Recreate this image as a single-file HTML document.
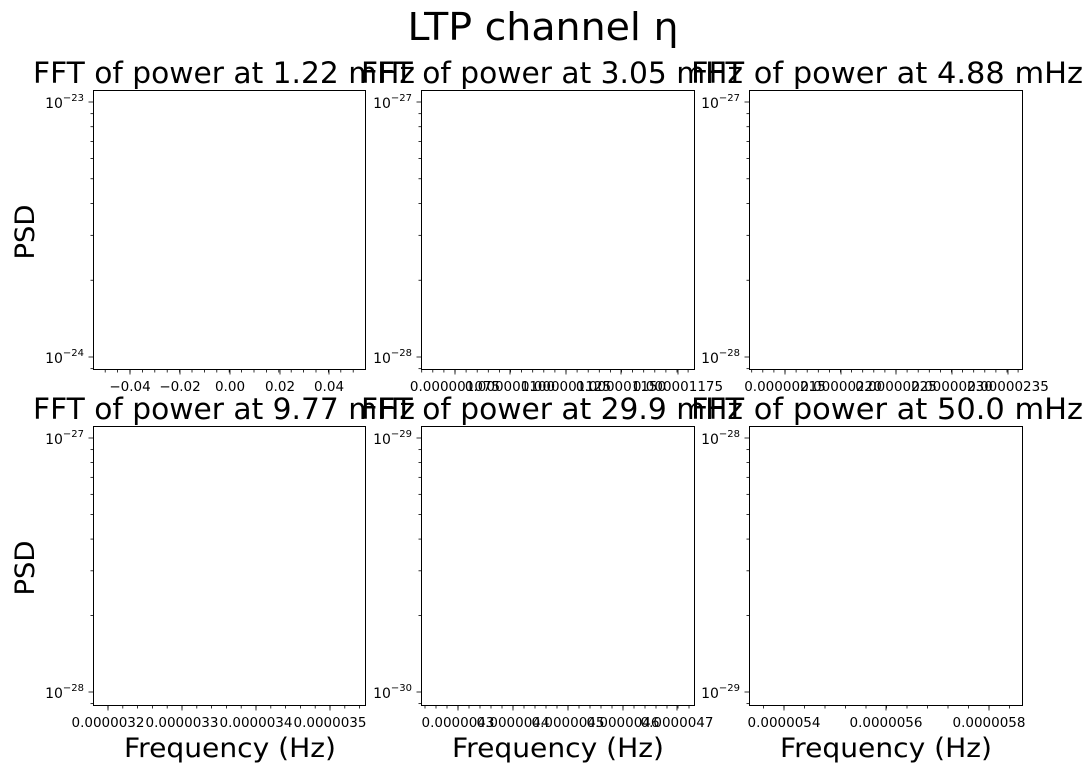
<!DOCTYPE html>
<html><head><meta charset="utf-8"><style>
html,body{margin:0;padding:0;background:#fff;}
svg{display:block;font-family:"DejaVu Sans","Liberation Sans",sans-serif;}
</style></head><body>
<svg id="s" width="1092" height="773" viewBox="0 0 1092 773" xmlns="http://www.w3.org/2000/svg">
<rect width="1092" height="773" fill="#fff"/>
<text x="543" y="40" font-size="38" text-anchor="middle" textLength="271" lengthAdjust="spacingAndGlyphs">LTP channel η</text>

<g font-size="29" text-anchor="middle">
<text x="224" y="83" textLength="382" lengthAdjust="spacingAndGlyphs">FFT of power at 1.22 mHz</text>
<text x="552" y="83" textLength="382" lengthAdjust="spacingAndGlyphs">FFT of power at 3.05 mHz</text>
<text x="887" y="83" textLength="392" lengthAdjust="spacingAndGlyphs">FFT of power at 4.88 mHz</text>
<text x="224" y="419" textLength="382" lengthAdjust="spacingAndGlyphs">FFT of power at 9.77 mHz</text>
<text x="552" y="419" textLength="382" lengthAdjust="spacingAndGlyphs">FFT of power at 29.9 mHz</text>
<text x="887" y="419" textLength="392" lengthAdjust="spacingAndGlyphs">FFT of power at 50.0 mHz</text>
</g>

<g font-size="27" text-anchor="middle">
<text transform="translate(34,232) rotate(-90)" textLength="55" lengthAdjust="spacingAndGlyphs">PSD</text>
<text transform="translate(34,568) rotate(-90)" textLength="55" lengthAdjust="spacingAndGlyphs">PSD</text>
<text x="230" y="757" textLength="212" lengthAdjust="spacingAndGlyphs">Frequency (Hz)</text>
<text x="558" y="757" textLength="212" lengthAdjust="spacingAndGlyphs">Frequency (Hz)</text>
<text x="886" y="757" textLength="212" lengthAdjust="spacingAndGlyphs">Frequency (Hz)</text>
</g>

<g fill="none" stroke="#000" stroke-width="1">
<rect x="93.5" y="90.5" width="272" height="279"/>
<rect x="421.5" y="90.5" width="273" height="279"/>
<rect x="749.5" y="90.5" width="273" height="279"/>
<rect x="93.5" y="426.5" width="272" height="279"/>
<rect x="421.5" y="426.5" width="273" height="279"/>
<rect x="749.5" y="426.5" width="273" height="279"/>
</g>
<g id="ticks" stroke="#000" stroke-width="0.8"></g>

<g font-size="14" text-anchor="end">
<text x="84" y="108">10<tspan font-size="10" dy="-7">−23</tspan></text>
<text x="84" y="363">10<tspan font-size="10" dy="-7">−24</tspan></text>
<text x="412" y="108">10<tspan font-size="10" dy="-7">−27</tspan></text>
<text x="412" y="363">10<tspan font-size="10" dy="-7">−28</tspan></text>
<text x="740" y="108">10<tspan font-size="10" dy="-7">−27</tspan></text>
<text x="740" y="363">10<tspan font-size="10" dy="-7">−28</tspan></text>
<text x="84" y="444">10<tspan font-size="10" dy="-7">−27</tspan></text>
<text x="84" y="698">10<tspan font-size="10" dy="-7">−28</tspan></text>
<text x="412" y="444">10<tspan font-size="10" dy="-7">−29</tspan></text>
<text x="412" y="698">10<tspan font-size="10" dy="-7">−30</tspan></text>
<text x="740" y="444">10<tspan font-size="10" dy="-7">−28</tspan></text>
<text x="740" y="698">10<tspan font-size="10" dy="-7">−29</tspan></text>
</g>

<g font-size="13.5" text-anchor="middle">
<text x="130" y="391">−0.04</text>
<text x="180" y="391">−0.02</text>
<text x="230" y="391">0.00</text>
<text x="280" y="391">0.02</text>
<text x="329" y="391">0.04</text>

<text x="455" y="391">0.000001075</text>
<text x="510" y="391">0.000001100</text>
<text x="566" y="391">0.000001125</text>
<text x="621" y="391">0.000001150</text>
<text x="678" y="391">0.000001175</text>

<text x="785" y="391">0.00000215</text>
<text x="841" y="391">0.00000220</text>
<text x="896" y="391">0.00000225</text>
<text x="952" y="391">0.00000230</text>
<text x="1008" y="391">0.00000235</text>

<text x="108" y="727">0.0000032</text>
<text x="182" y="727">0.0000033</text>
<text x="256" y="727">0.0000034</text>
<text x="330" y="727">0.0000035</text>

<text x="458" y="727">0.0000043</text>
<text x="513" y="727">0.0000044</text>
<text x="568" y="727">0.0000045</text>
<text x="623" y="727">0.0000046</text>
<text x="677" y="727">0.0000047</text>

<text x="784" y="727">0.0000054</text>
<text x="886" y="727">0.0000056</text>
<text x="989" y="727">0.0000058</text>
</g>
</svg>
<script>
(function(){
var g=document.getElementById('ticks'),d='';
function L(x1,y1,x2,y2){d+='<line x1="'+x1+'" y1="'+y1+'" x2="'+x2+'" y2="'+y2+'"/>';}
var panels=[
 {x0:93.5,x1:365.5,bot:369.5,ytop:102,ybot:357,maj:[130,180,230,280,329],step:12.4},
 {x0:421.5,x1:694.5,bot:369.5,ytop:102,ybot:357,maj:[455,510,566,621,678],step:11.1},
 {x0:749.5,x1:1022.5,bot:369.5,ytop:102,ybot:357,maj:[785,841,896,952,1008],step:11.1},
 {x0:93.5,x1:365.5,bot:705.5,ytop:438,ybot:692,maj:[108,182,256,330],step:14.8},
 {x0:421.5,x1:694.5,bot:705.5,ytop:438,ybot:692,maj:[458,513,568,623,677],step:11},
 {x0:749.5,x1:1022.5,bot:705.5,ytop:438,ybot:692,maj:[784,886,989],step:20.5}
];
panels.forEach(function(p){
 var span=p.ybot-p.ytop;
 L(p.x0-5,p.ytop,p.x0,p.ytop);L(p.x0-5,p.ybot,p.x0,p.ybot);
 for(var k=2;k<=9;k++){var y=p.ybot-span*Math.log10(k);L(p.x0-3,y,p.x0,y);}
 var y9=p.ybot+span*(1-Math.log10(9));if(y9<p.bot)L(p.x0-3,y9,p.x0,y9);
 p.maj.forEach(function(x){L(x,p.bot,x,p.bot+5);});
 var s=p.step,st=p.maj[0];
 for(var x=st;x>p.x0;x-=s)L(x,p.bot,x,p.bot+3);
 for(var x=st;x<p.x1;x+=s)L(x,p.bot,x,p.bot+3);
});
g.innerHTML=d;
})();
</script>
</body></html>
